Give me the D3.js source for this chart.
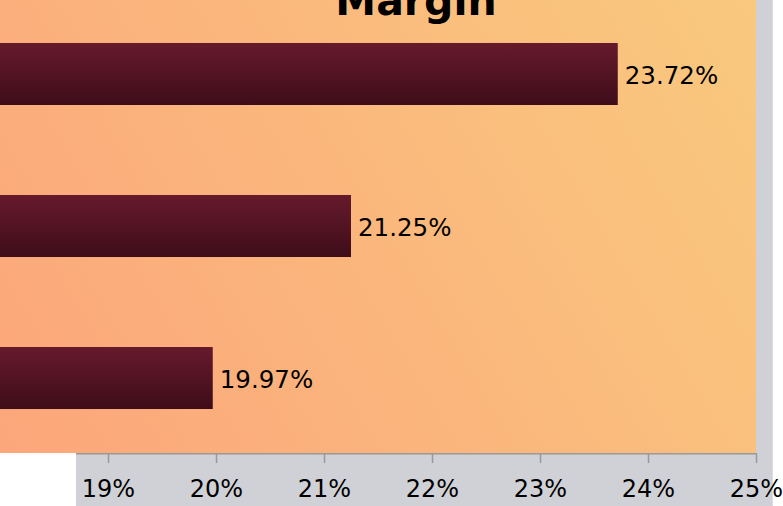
<!DOCTYPE html>
<html>
<head>
<meta charset="utf-8">
<script src="https://cdn.jsdelivr.net/npm/d3@7"></script>
<style>
  html, body { margin: 0; padding: 0; background: #fff; overflow: hidden; }
  svg { display: block; font-family: "DejaVu Sans", sans-serif; }
</style>
</head>
<body>
<svg id="chart" width="783" height="506"></svg>
<script>
// ---- data ----
const title = "Margin";
const categories = ["Gross Margin", "Operating Margin", "Net Margin"];
const values = [23.72, 21.25, 19.97];
const tickValues = [19, 20, 21, 22, 23, 24, 25];
const tickLabels = ["19%", "20%", "21%", "22%", "23%", "24%", "25%"];

const W = 783, H = 506;
const plotRight = 756, plotBottom = 453;
const pxPerUnit = 108;
const plotLeft = plotRight - 25 * pxPerUnit;

const svg = d3.select("#chart");
const defs = svg.append("defs");

const bgGrad = defs.append("linearGradient")
  .attr("id", "bgGrad").attr("gradientUnits", "userSpaceOnUse")
  .attr("x1", 0).attr("y1", plotBottom).attr("x2", plotRight).attr("y2", 0);
bgGrad.append("stop").attr("offset", "0%").attr("stop-color", "#fca67b");
bgGrad.append("stop").attr("offset", "100%").attr("stop-color", "#f9c97e");

const barGrad = defs.append("linearGradient")
  .attr("id", "barGrad").attr("x1", 0).attr("y1", 0).attr("x2", 0).attr("y2", 1);
barGrad.append("stop").attr("offset", "0%").attr("stop-color", "#661a2c");
barGrad.append("stop").attr("offset", "100%").attr("stop-color", "#3e0d19");

// gray container
svg.append("rect").attr("x", 76).attr("y", 0).attr("width", 697).attr("height", H)
  .attr("fill", "#d0d1d6");
svg.append("line").attr("x1", 772.5).attr("x2", 772.5).attr("y1", 0).attr("y2", H)
  .attr("stroke", "#dcdde1").attr("stroke-width", 1);

// plot background
svg.append("rect").attr("x", 0).attr("y", 0).attr("width", plotRight).attr("height", plotBottom)
  .attr("fill", "url(#bgGrad)");

const x = d3.scaleLinear().domain([0, 25]).range([plotLeft, plotRight]);
const y = d3.scaleBand().domain(categories).range([0, plotBottom])
  .paddingInner(0.592).paddingOuter(0.286);

const data = categories.map((c, i) => ({ c, v: values[i] }));

svg.append("g").selectAll("rect").data(data).join("rect")
  .attr("x", d => x(0)).attr("y", d => y(d.c) - 0.5)
  .attr("width", d => x(d.v) - x(0)).attr("height", y.bandwidth())
  .attr("fill", "url(#barGrad)");

svg.append("g").selectAll("text").data(data).join("text")
  .attr("x", d => x(d.v) + 7).attr("y", d => y(d.c) + y.bandwidth() / 2)
  .attr("dy", "0.38em")
  .attr("font-size", 24.5).attr("fill", "#000")
  .text(d => d.v.toFixed(2) + "%");

// axis
const axis = d3.axisBottom(x).tickValues(tickValues)
  .tickFormat((d, i) => tickLabels[i]).tickSize(10).tickPadding(17);
const ag = svg.append("g").attr("transform", `translate(0,${plotBottom})`).call(axis);
ag.select(".domain").remove();
ag.selectAll(".tick line").attr("stroke", "#999").attr("stroke-width", 1.5);
ag.selectAll(".tick text").attr("font-size", 24).attr("fill", "#000")
  .attr("font-family", "DejaVu Sans, sans-serif");
svg.append("line").attr("x1", 76).attr("x2", plotRight + 0.75)
  .attr("y1", plotBottom + 0.75).attr("y2", plotBottom + 0.75)
  .attr("stroke", "#999").attr("stroke-width", 1.5);

// title
svg.append("text").attr("x", 416).attr("y", 15).attr("text-anchor", "middle")
  .attr("font-size", 41).attr("font-weight", "bold").attr("fill", "#000")
  .text(title);
</script>
</body>
</html>
